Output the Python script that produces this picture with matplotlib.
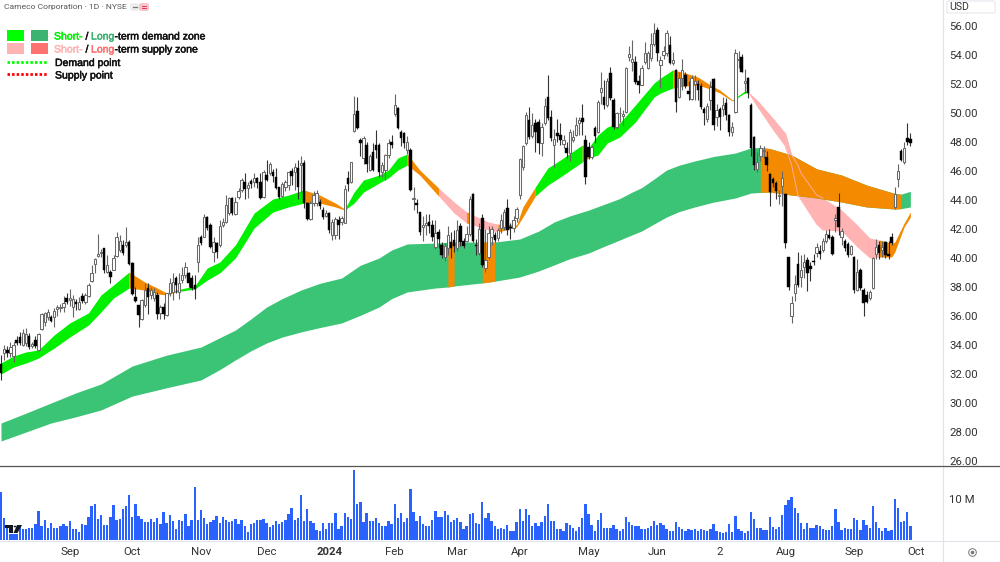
import numpy as np
import matplotlib
matplotlib.use("Agg")
import matplotlib.pyplot as plt
import matplotlib.patheffects as pe
from matplotlib.lines import Line2D
from matplotlib.patches import Rectangle, Circle, Polygon, FancyBboxPatch

W, H = 1000, 562

# candles, one value per trading day
opens = [
    32.7, 33.43, 33.66, 33.43, 33.26, 34.35, 34.57, 34.0, 34.12, 34.64,
    33.9, 34.35, 33.66, 35.08, 35.6, 35.95, 35.95, 35.95, 36.46, 36.53,
    36.6, 37.22, 37.1, 36.64, 36.99, 36.46, 37.38, 36.99, 37.38, 38.44,
    39.59, 40.14, 40.32, 40.67, 39.06, 39.06, 39.17, 40.14, 40.55, 40.9,
    40.9, 41.13, 39.68, 37.33, 36.76, 35.77, 36.76, 37.91, 37.45, 37.22,
    37.45, 36.18, 36.64, 36.07, 37.56, 37.68, 38.6, 37.68, 38.48, 38.83,
    38.99, 38.6, 38.14, 39.75, 41.43, 41.47, 42.81, 42.28, 40.44, 41.01,
    40.9, 42.28, 42.51, 43.08, 44.12, 43.04, 44.23, 44.69, 45.27, 44.81,
    45.34, 45.27, 45.5, 45.27, 44.23, 45.73, 45.89, 45.96, 45.57, 44.92,
    44.28, 44.92, 45.04, 46.03, 45.96, 46.19, 46.42, 46.58, 43.77, 42.67,
    43.77, 43.77, 43.89, 43.31, 42.9, 43.08, 41.59, 41.59, 42.62, 42.51,
    42.44, 45.5, 45.27, 48.79, 50.16, 48.14, 46.88, 47.8, 46.07, 47.34,
    47.8, 47.8, 45.96, 46.07, 47.1, 48.03, 49.93, 50.33, 48.72, 48.6,
    47.45, 47.45, 44.05, 43.77, 43.15, 42.16, 42.28, 42.51, 42.28, 40.74,
    41.77, 40.9, 40.1, 40.67, 41.13, 41.25, 40.67, 42.21, 41.2, 41.2,
    41.66, 44.4, 40.9, 40.33, 42.74, 39.29, 40.1, 41.47, 41.58, 41.35,
    42.04, 42.16, 43.42, 42.16, 42.04, 42.73, 44.34, 46.25, 47.9, 49.51,
    48.41, 49.28, 49.4, 47.9, 49.28, 51.08, 49.74, 47.79, 48.59, 48.48,
    47.86, 47.58, 47.21, 48.13, 48.48, 49.28, 49.65, 48.13, 47.63, 46.94,
    48.98, 48.71, 51.47, 51.08, 50.55, 52.73, 50.89, 49.05, 50.0, 49.79,
    50.09, 53.88, 53.54, 53.54, 52.23, 51.93, 53.54, 53.08, 53.77, 54.75,
    55.72, 53.31, 54.0, 54.11, 54.69, 53.42, 52.96, 51.12, 52.43, 52.62,
    51.54, 50.96, 51.97, 51.97, 51.86, 50.25, 49.58, 50.89, 52.32, 49.74,
    50.25, 50.25, 50.71, 49.86, 48.66, 50.09, 53.65, 53.88, 52.04, 52.39,
    50.55, 48.32, 46.11, 47.03, 47.37, 46.98, 45.79, 45.42, 45.14, 44.3,
    44.96, 44.39, 40.04, 36.0, 37.56, 39.62, 38.72, 39.41, 39.87, 39.45,
    39.82, 40.37, 40.51, 40.55, 41.2, 41.59, 41.47, 42.6, 43.54, 41.47,
    41.2, 40.97, 40.28, 40.05, 37.8, 39.17, 37.8, 37.45, 37.22, 37.91,
    40.28, 40.9, 40.55, 41.08, 40.28, 41.47, 43.5, 45.43, 47.4, 46.65,
    48.3, 48.21,
]
highs = [
    33.3, 34.0, 33.9, 34.2, 34.23, 34.6, 34.92, 35.08, 35.15, 34.85,
    34.2, 34.6, 34.8, 36.23, 36.3, 36.5, 36.1, 36.53, 36.76, 36.8,
    37.4, 37.6, 37.84, 37.45, 37.2, 37.33, 37.56, 37.6, 38.3, 39.5,
    39.98, 41.63, 40.6, 40.7, 40.2, 39.17, 40.2, 41.82, 41.59, 41.24,
    42.16, 41.24, 39.75, 38.02, 36.76, 37.15, 38.25, 38.25, 38.0, 37.9,
    37.68, 36.76, 36.87, 37.56, 38.6, 38.94, 38.76, 38.94, 39.4, 39.75,
    39.06, 38.83, 38.83, 41.47, 41.6, 43.04, 42.9, 42.39, 41.47, 41.13,
    42.62, 42.74, 44.35, 44.23, 44.23, 44.23, 44.81, 45.5, 45.84, 45.27,
    45.43, 45.84, 45.61, 45.84, 46.07, 46.76, 46.65, 46.12, 46.19, 44.92,
    45.27, 45.38, 45.96, 46.19, 46.58, 46.76, 47.0, 46.76, 43.89, 43.9,
    44.6, 44.7, 44.1, 43.5, 43.3, 43.2, 42.7, 42.8, 42.9, 42.9,
    45.0, 46.0, 46.65, 51.2, 51.1, 48.3, 48.4, 48.0, 47.2, 47.9,
    48.8, 47.9, 46.6, 47.2, 48.2, 48.5, 51.3, 50.4, 48.8, 48.7,
    48.4, 47.6, 44.9, 44.1, 43.15, 42.9, 43.0, 43.0, 42.6, 42.6,
    42.0, 41.1, 41.0, 42.2, 41.8, 41.9, 42.6, 42.4, 41.4, 42.2,
    44.3, 44.5, 41.3, 42.4, 43.0, 42.0, 42.2, 42.2, 41.8, 42.1,
    43.0, 43.4, 44.1, 42.4, 42.9, 43.5, 46.9, 47.8, 50.1, 50.4,
    50.0, 49.6, 49.6, 49.3, 51.0, 52.6, 50.2, 48.9, 49.6, 49.3,
    48.5, 48.0, 48.9, 48.8, 49.7, 49.7, 50.6, 48.5, 48.0, 47.8,
    49.1, 50.9, 52.8, 52.3, 52.4, 53.2, 51.0, 50.1, 50.4, 50.2,
    53.2, 54.6, 55.0, 53.9, 52.6, 53.3, 54.9, 54.3, 55.5, 56.2,
    55.9, 53.9, 54.6, 55.7, 55.3, 54.2, 53.0, 52.8, 53.7, 52.8,
    52.2, 52.6, 52.6, 52.3, 52.1, 50.4, 50.7, 52.2, 52.4, 50.6,
    50.4, 51.1, 51.0, 49.95, 49.4, 54.4, 54.25, 54.1, 53.0, 52.5,
    50.7, 48.4, 47.3, 47.8, 47.7, 47.4, 45.85, 45.6, 45.3, 44.7,
    46.0, 44.5, 40.1, 37.4, 38.8, 40.4, 40.2, 40.3, 40.1, 39.7,
    40.3, 41.0, 40.9, 41.4, 41.9, 42.0, 41.6, 43.0, 44.5, 42.1,
    41.3, 41.1, 40.9, 40.15, 39.9, 39.3, 37.9, 37.7, 37.8, 40.1,
    41.3, 41.2, 41.2, 41.2, 41.2, 41.7, 44.9, 46.5, 47.5, 48.0,
    49.3, 48.6,
]
lows = [
    31.6, 32.97, 33.2, 33.2, 32.85, 34.0, 34.0, 33.9, 33.9, 33.75,
    33.8, 33.8, 33.6, 35.03, 35.3, 35.7, 35.6, 35.22, 36.0, 36.3,
    36.3, 36.8, 36.7, 35.95, 36.4, 36.4, 36.9, 36.8, 37.3, 38.37,
    38.94, 40.09, 40.1, 38.94, 38.94, 38.25, 39.17, 40.09, 40.44, 40.2,
    40.78, 39.52, 37.45, 36.99, 35.22, 35.72, 36.64, 36.14, 37.2, 37.0,
    35.77, 35.77, 35.77, 36.0, 37.4, 37.1, 37.56, 37.2, 38.3, 38.6,
    38.0, 37.8, 37.15, 39.06, 40.9, 41.43, 41.93, 40.67, 39.75, 39.98,
    40.78, 42.16, 42.44, 42.97, 42.97, 42.97, 44.05, 44.58, 44.05, 44.12,
    44.81, 44.92, 44.81, 44.05, 44.12, 45.34, 45.73, 45.27, 44.74, 44.05,
    44.23, 44.6, 44.69, 45.04, 44.69, 44.05, 44.46, 43.43, 42.62, 42.6,
    43.6, 43.6, 43.4, 42.7, 42.8, 41.7, 41.24, 41.3, 41.3, 42.3,
    42.4, 44.6, 45.2, 48.7, 48.9, 47.0, 46.5, 45.9, 46.0, 46.0,
    46.9, 45.6, 45.6, 45.4, 46.9, 47.6, 49.8, 48.9, 47.7, 47.6,
    47.2, 44.6, 43.3, 43.1, 41.6, 41.2, 41.6, 41.7, 41.2, 40.6,
    40.7, 40.0, 39.8, 40.2, 40.0, 40.4, 40.5, 40.8, 40.7, 41.1,
    41.5, 41.1, 40.2, 40.2, 39.4, 39.0, 39.9, 40.9, 41.1, 41.2,
    41.7, 41.9, 41.6, 41.3, 41.8, 42.5, 44.1, 46.1, 47.8, 48.2,
    48.3, 47.3, 47.2, 47.0, 49.2, 49.5, 48.1, 46.3, 48.0, 47.8,
    47.6, 46.9, 46.7, 48.0, 48.4, 48.5, 48.5, 45.1, 46.8, 46.8,
    47.9, 48.6, 50.6, 50.3, 50.4, 50.9, 48.9, 48.9, 49.4, 49.1,
    50.0, 53.6, 52.9, 52.0, 51.35, 51.9, 53.4, 53.0, 53.6, 54.6,
    53.6, 51.7, 53.7, 53.9, 53.4, 53.3, 50.1, 51.0, 51.6, 51.7,
    50.9, 50.9, 50.9, 50.9, 50.3, 49.2, 49.4, 50.2, 48.85, 49.1,
    48.8, 49.8, 49.5, 48.4, 48.4, 50.0, 53.1, 52.8, 51.4, 51.0,
    47.0, 46.1, 45.9, 46.7, 46.9, 46.0, 43.6, 44.9, 44.1, 43.7,
    43.6, 40.7, 37.8, 35.5, 37.0, 38.0, 38.0, 38.6, 37.7, 38.4,
    39.5, 40.1, 39.9, 40.4, 41.0, 41.3, 40.2, 41.8, 41.6, 40.9,
    40.5, 40.1, 40.2, 37.6, 37.7, 37.8, 36.0, 36.9, 37.1, 37.85,
    39.9, 39.9, 40.1, 40.0, 39.9, 40.9, 43.4, 44.9, 46.7, 46.5,
    47.8, 47.7,
]
closes = [
    32.1, 33.7, 33.43, 33.89, 34.0, 34.16, 34.16, 34.8, 34.76, 33.84,
    34.07, 33.93, 34.73, 36.14, 36.18, 36.3, 35.68, 36.37, 36.6, 36.64,
    36.92, 36.99, 37.22, 37.15, 36.83, 36.99, 37.06, 37.45, 38.14, 38.94,
    39.91, 40.3, 40.44, 39.17, 39.52, 38.71, 39.98, 41.47, 41.17, 40.32,
    41.13, 39.59, 37.52, 37.06, 36.07, 37.1, 37.79, 37.33, 37.79, 37.68,
    36.14, 36.64, 36.14, 37.56, 38.25, 38.37, 38.14, 38.25, 38.83, 39.4,
    38.3, 37.91, 37.86, 40.9, 41.01, 42.85, 42.05, 40.78, 41.13, 40.44,
    42.21, 42.51, 43.66, 44.12, 43.13, 43.89, 44.65, 45.38, 44.74, 45.04,
    45.11, 45.5, 45.2, 44.12, 45.96, 45.38, 46.48, 45.68, 44.81, 44.23,
    45.11, 45.27, 45.96, 45.66, 46.3, 44.92, 46.53, 43.77, 42.67, 43.77,
    44.35, 44.46, 43.59, 42.85, 43.13, 41.93, 42.5, 42.67, 42.28, 42.74,
    44.74, 45.1, 46.65, 49.93, 48.95, 47.91, 48.26, 46.49, 47.0, 46.07,
    47.45, 45.96, 46.42, 47.1, 47.91, 47.8, 50.56, 48.99, 48.26, 47.91,
    48.03, 44.69, 44.12, 43.64, 41.82, 42.28, 42.39, 42.21, 41.47, 41.75,
    41.29, 40.2, 40.8, 41.59, 40.67, 40.8, 41.93, 41.13, 40.83, 41.66,
    44.05, 41.2, 40.8, 41.98, 39.52, 39.87, 41.7, 41.97, 41.24, 41.93,
    42.62, 43.19, 41.93, 42.07, 42.62, 43.35, 46.8, 47.72, 49.86, 48.36,
    49.17, 48.71, 47.9, 49.05, 50.48, 49.63, 48.25, 48.18, 48.41, 48.13,
    48.13, 47.26, 48.71, 48.36, 49.17, 49.51, 49.4, 45.6, 46.94, 47.67,
    48.41, 50.78, 51.7, 50.57, 52.2, 51.0, 49.01, 49.97, 50.02, 49.93,
    53.08, 54.07, 53.7, 52.16, 51.93, 53.08, 54.16, 54.11, 54.75, 55.49,
    54.11, 53.65, 54.3, 55.49, 53.42, 53.65, 50.78, 52.39, 52.96, 51.86,
    51.28, 52.43, 52.22, 51.58, 50.39, 50.02, 50.5, 51.81, 49.17, 50.2,
    49.74, 50.55, 49.86, 48.71, 49.0, 54.17, 53.74, 52.85, 52.22, 51.35,
    47.56, 46.41, 46.59, 47.56, 47.44, 46.41, 44.57, 45.19, 44.62, 44.35,
    45.49, 41.0, 38.02, 36.87, 38.18, 38.13, 39.17, 39.75, 38.94, 39.22,
    39.75, 40.74, 40.26, 41.2, 41.66, 41.4, 40.28, 42.74, 42.16, 41.89,
    40.67, 40.21, 40.83, 37.8, 39.06, 37.91, 36.92, 36.99, 37.68, 39.98,
    40.74, 40.32, 40.78, 40.21, 40.14, 41.06, 44.42, 46.03, 46.76, 47.57,
    48.03, 47.96,
]
# volume in millions
volumes = [
    11.8, 5.4, 3.7, 1.5, 1.5, 1.5, 3.7, 2.7, 2.8, 2.9,
    2.9, 3.9, 7.2, 3.3, 4.8, 2.9, 4.1, 3.0, 2.9, 3.3,
    3.8, 3.4, 4.6, 2.6, 2.8, 1.9, 3.8, 3.7, 5.5, 8.2,
    8.9, 5.1, 6.0, 3.7, 3.7, 5.5, 8.5, 4.8, 5.1, 7.5,
    8.3, 11.1, 5.5, 8.9, 5.8, 5.1, 4.3, 4.3, 5.2, 4.5,
    5.3, 3.9, 6.9, 4.2, 6.0, 4.6, 2.8, 4.8, 4.7, 6.3,
    3.5, 4.9, 12.9, 5.0, 7.3, 5.4, 3.9, 4.5, 4.9, 5.8,
    4.1, 5.7, 4.8, 4.4, 4.6, 5.1, 3.9, 5.0, 3.4, 1.9,
    4.0, 4.1, 5.0, 5.0, 5.1, 4.1, 3.2, 3.7, 4.6, 3.8,
    4.3, 5.0, 6.3, 7.9, 5.0, 5.4, 11.1, 4.6, 7.6, 4.6,
    4.1, 2.4, 2.3, 4.1, 2.7, 4.1, 4.1, 6.7, 2.7, 3.3,
    6.5, 5.7, 5.1, 17.2, 8.8, 9.3, 4.4, 6.5, 4.7, 4.6,
    5.3, 4.1, 3.3, 3.5, 4.6, 3.9, 8.8, 5.3, 6.6, 4.4,
    5.4, 12.4, 6.9, 4.7, 5.9, 3.9, 3.3, 3.5, 5.0, 7.0,
    5.6, 5.6, 7.2, 6.1, 4.4, 4.8, 5.4, 4.4, 2.6, 3.3,
    6.3, 6.6, 4.1, 3.9, 9.2, 5.3, 6.7, 4.6, 3.4, 2.8,
    3.0,
    2.7, 3.6, 2.2, 2.2, 4.3, 7.5, 4.6, 7.5, 6.1, 3.4,
    4.1, 3.4, 4.3, 5.9, 8.9, 4.6, 4.6, 2.8, 2.7, 2.3,
    4.1, 3.7, 2.9, 2.1, 3.2, 5.4, 8.8, 6.4, 3.7, 2.3,
    4.9, 6.5, 3.0, 3.0, 2.9, 3.7, 2.8, 2.2, 2.8, 5.7,
    4.3, 3.7, 3.5, 3.5, 2.7, 2.8, 2.9, 3.5, 4.6, 3.6,
    4.1, 3.7, 2.7, 2.3, 2.2, 4.4, 3.1, 2.8, 2.3, 2.6,
    2.5, 2.8, 2.3, 2.7, 2.5, 2.3, 2.8, 3.8, 2.2, 2.0,
    1.8, 1.9, 3.9, 2.0, 5.8, 2.6, 2.3, 1.8, 2.1, 6.8,
    5.2, 2.9, 2.9, 2.4, 2.4, 5.6, 3.1, 2.7, 3.2, 6.1,
    8.5, 9.8, 10.5, 7.9, 6.6, 4.1, 2.8, 4.1, 2.9, 3.0,
    3.7, 3.3, 2.8, 2.5, 2.4, 3.3, 7.5, 4.3, 2.4, 2.9,
    2.6, 2.6, 5.4, 5.0, 2.4, 4.8, 3.7, 2.9, 8.4, 4.4,
    2.9, 2.1, 3.0, 2.2, 2.4, 10.0, 7.7, 4.4, 4.7, 6.8,
    3.3,
]

price_ticks = list(range(26, 58, 2))
month_pos = [22, 42, 64, 85, 105, 126, 146, 166, 188, 210, 230, 251, 273, 293]
month_labels = ["Sep", "Oct", "Nov", "Dec", "2024", "Feb", "Mar", "Apr", "May", "Jun", "2", "Aug", "Sep", "Oct"]

# long-term zone edges
long_idx = [0, 8, 16, 24, 32, 42, 53, 64, 70, 75, 80, 85, 90, 96, 102, 109, 115, 121, 125, 130, 139, 143, 145, 154, 158, 166,
            172, 177, 182, 188, 193, 198, 202, 205, 209, 213, 217, 222, 228, 235, 240, 243, 246, 253, 261, 269, 277, 286, 288, 291]
long_top = [28.62, 29.3, 30.0, 30.7, 31.31, 32.55, 33.3, 33.86, 34.5, 35.03, 35.8, 36.62, 37.2, 37.79, 38.25, 38.62, 39.5, 40.0, 40.55, 40.97, 41.03, 41.08, 41.1, 41.1, 41.1, 41.31,
            41.85, 42.48, 42.9, 43.3, 43.7, 44.1, 44.55, 44.85, 45.45, 46.07, 46.4, 46.69, 47.0, 47.24, 47.59, 47.62, 47.55, 47.1, 46.15, 45.72, 45.03, 44.45, 44.4, 44.6]
long_bot = [27.38, 28.0, 28.62, 29.05, 29.52, 30.48, 31.05, 31.59, 32.3, 32.97, 33.6, 34.14, 34.55, 34.9, 35.2, 35.52, 36.05, 36.62, 37.2, 37.66, 37.93, 38.0, 38.07, 38.28, 38.4, 38.69,
            39.1, 39.52, 39.95, 40.34, 40.8, 41.24, 41.6, 41.86, 42.35, 42.83, 43.2, 43.52, 43.85, 44.14, 44.48, 44.52, 44.55, 44.34, 44.14, 43.86, 43.52, 43.38, 43.4, 43.52]
long_orange = [(143, 145), (154, 158), (243, 288)]

# short-term zone, one piece per colour: bars, upper edge, lower edge
short_green_1 = ([0, 4, 8, 12, 17, 22, 28, 32, 36, 41],
                 [32.76, 33.24, 33.52, 33.66, 34.69, 35.52, 36.21, 37.45, 38.14, 39.03],
                 [32.0, 32.48, 32.76, 33.1, 33.79, 34.55, 35.38, 36.28, 37.24, 37.93])
short_orange_1 = ([41, 46, 50, 53, 56],
                  [39.03, 38.34, 37.93, 37.59, 37.79],
                  [37.93, 37.79, 37.52, 37.45, 37.66])
short_green_2 = ([56, 62, 66, 70, 75, 81, 87, 92, 97],
                 [37.79, 38.07, 39.31, 39.72, 40.9, 43.1, 44.07, 44.34, 44.69],
                 [37.66, 37.86, 38.48, 38.97, 40.0, 42.07, 43.17, 43.52, 43.79])
short_orange_2 = ([97, 102, 107, 110],
                  [44.69, 44.34, 43.79, 43.38],
                  [43.79, 43.79, 43.52, 43.31])
short_green_3 = ([110, 113, 116, 121, 124, 127, 130],
                 [43.38, 44.55, 45.38, 45.72, 46.07, 46.9, 47.17],
                 [43.31, 43.79, 44.55, 45.17, 45.52, 46.07, 46.41])
short_orange_3 = ([130, 134, 140],
                  [47.17, 46.07, 44.83],
                  [46.41, 45.72, 44.28])
short_pink_1 = ([140, 145, 149, 156, 159],
                [44.83, 43.86, 43.17, 42.48, 42.34],
                [44.28, 43.1, 42.41, 41.93, 41.79])
short_orange_4 = ([149, 150], [43.17, 43.1], [42.41, 42.35])
short_orange_5 = ([159, 165, 167, 171],
                  [42.34, 42.28, 43.52, 44.9],
                  [41.79, 42.14, 42.83, 44.28])
short_green_4 = ([171, 175, 179, 186],
                 [44.9, 46.21, 46.76, 47.79],
                 [44.28, 45.03, 45.59, 46.62])
short_orange_6 = ([186, 188], [47.79, 47.59], [46.62, 46.9])
short_green_5 = ([188, 191, 194, 198, 203, 209, 211, 215],
                 [47.59, 48.48, 49.03, 49.31, 50.55, 52.07, 52.41, 52.97],
                 [46.9, 47.1, 47.93, 48.34, 49.38, 51.1, 51.38, 51.72])
short_orange_7 = ([215, 219, 223, 227, 230, 234],
                  [52.97, 52.76, 52.48, 51.93, 51.59, 50.9],
                  [51.72, 51.86, 51.93, 51.65, 51.38, 50.83])
short_green_6 = ([234, 238, 239], [50.9, 51.52, 51.48], [50.83, 51.38, 51.41])
short_pink_2 = ([239, 242, 247, 251, 253, 255, 256, 261, 263, 269, 274, 278, 281],
                [51.48, 50.9, 49.66, 48.62, 47.1, 46.41, 45.86, 44.34, 44.14, 43.31, 42.28, 41.38, 41.24],
                [51.41, 50.41, 48.83, 47.66, 46.41, 44.34, 44.0, 42.34, 41.93, 41.86, 40.76, 40.0, 40.07])
short_orange_8 = ([281, 285, 286, 289, 291],
                  [41.24, 41.03, 41.1, 42.41, 43.17],
                  [40.07, 40.07, 40.41, 42.14, 42.83])

GREEN = "#00F000"
LONG_GREEN = "#3CC476"
ORANGE = "#F48A00"
PINK = "#FFB3B3"
BAR_X0 = -0.32


def fig_xy(x, y):
    return x / W, 1 - y / H


def add_text(fig, x, y, text, color, size=7.55):
    t = fig.text(*fig_xy(x, y), text, color=color, fontsize=size,
                 va="baseline", ha="left", family="Liberation Sans")
    t.set_path_effects([pe.withStroke(linewidth=0.35, foreground=color)])


def draw_short(ax, piece, color):
    ax.fill_between(piece[0], piece[1], piece[2], color=color, lw=0, zorder=2)


def draw_candles(ax):
    x = np.arange(len(opens))
    o, h, l, c = map(np.array, (opens, highs, lows, closes))
    up = c >= o
    ax.vlines(x[up], l[up], h[up], color="#666666", lw=0.8, zorder=4)
    ax.vlines(x[~up], l[~up], h[~up], color="#333333", lw=0.8, zorder=4)
    ax.bar(x[up], (c - o)[up], bottom=o[up], width=0.76, color="white",
           edgecolor="#6a6a6a", lw=0.75, zorder=5)
    ax.bar(x[~up], (o - c)[~up], bottom=c[~up], width=0.8, color="black",
           edgecolor="black", lw=0.3, zorder=5)


fig = plt.figure(figsize=(W / 100, H / 100), dpi=100, facecolor="white")
ax = fig.add_axes([0, 1 - 465 / H, 943 / W, 465 / H])
vol_ax = fig.add_axes([0, 1 - 541 / H, 943 / W, 76 / H])

# short-term zone first, the long-term zone covers it where they cross
for piece, color in [(short_green_1, GREEN), (short_orange_1, ORANGE), (short_green_2, GREEN),
                     (short_orange_2, ORANGE), (short_green_3, GREEN), (short_orange_3, ORANGE),
                     (short_pink_1, PINK), (short_orange_4, ORANGE), (short_orange_5, ORANGE),
                     (short_green_4, GREEN), (short_orange_6, ORANGE), (short_green_5, GREEN),
                     (short_orange_7, ORANGE), (short_green_6, GREEN), (short_pink_2, PINK),
                     (short_orange_8, ORANGE)]:
    draw_short(ax, piece, color)

li = np.array(long_idx)
lt = np.array(long_top)
lb = np.array(long_bot)
ax.fill_between(li, lt, lb, color=LONG_GREEN, lw=0, zorder=3)
for a, b in long_orange:
    m = (li >= a) & (li <= b)
    ax.fill_between(li[m], lt[m], lb[m], color=ORANGE, lw=0, zorder=3)

# faint edges of the supply zone show through the orange
pink_x = np.array(short_pink_2[0])
inside = (pink_x >= 251) & (pink_x <= 263)
ax.plot(pink_x[inside], np.array(short_pink_2[1])[inside], color=PINK, lw=0.6, zorder=3.5)
ax.plot(pink_x[inside], np.array(short_pink_2[2])[inside], color=PINK, lw=0.6, zorder=3.5)

draw_candles(ax)

ax.set_xlim(BAR_X0, 301.44)
ax.set_ylim(57.793 - 465 / 14.5, 57.793)
ax.yaxis.tick_right()
ax.set_yticks(price_ticks)
ax.set_yticklabels([f"{t:.2f}" for t in price_ticks], family="Roboto", fontsize=8.2, color="#333333")
ax.tick_params(axis="y", length=0, pad=4.5)
ax.set_xticks([])
for side in ("top", "left", "bottom"):
    ax.spines[side].set_visible(False)
ax.spines["right"].set_color("#e0e3eb")
ax.spines["right"].set_linewidth(0.8)

vol_ax.bar(np.arange(len(volumes)), volumes, width=0.74, color="#2962FF", lw=0)
vol_ax.set_xlim(BAR_X0, 301.44)
vol_ax.set_ylim(-0.24, 18.3)
vol_ax.yaxis.tick_right()
vol_ax.set_yticks([10])
vol_ax.set_yticklabels(["10 M"], family="Roboto", fontsize=8.2, color="#333333")
vol_ax.tick_params(axis="y", length=0, pad=4.5)
vol_ax.set_xticks(month_pos)
vol_ax.set_xticklabels(month_labels, family="Roboto", fontsize=8.2, color="#333333")
vol_ax.tick_params(axis="x", length=0, pad=4)
vol_ax.get_xticklabels()[4].set_fontweight("bold")
for side in ("top", "left", "bottom"):
    vol_ax.spines[side].set_visible(False)
vol_ax.spines["right"].set_color("#e0e3eb")
vol_ax.spines["right"].set_linewidth(0.8)
vol_ax.patch.set_alpha(0)

# pane separator and bottom rule run the full width
fig.add_artist(Line2D([0, 1], [1 - 465.5 / H] * 2, color="#555555", lw=0.9))
fig.add_artist(Line2D([0, 1], [1 - 541 / H] * 2, color="#e0e3eb", lw=0.8))
fig.add_artist(Line2D([943 / W, 943 / W], [0, 1 - 541 / H], color="#e0e3eb", lw=0.8))

# currency box
fig.add_artist(FancyBboxPatch(fig_xy(947, 13), 48 / W, 12 / H, boxstyle="round,pad=0,rounding_size=0.002",
                              transform=fig.transFigure, fc="white", ec="#e0e3eb", lw=0.7))
fig.text(*fig_xy(949, 7), "USD", family="Roboto", fontsize=7.6, color="#333333", va="center", ha="left")

# header
fig.text(*fig_xy(4, 7), "Cameco Corporation · 1D · NYSE", family="Roboto", fontsize=6.1,
         color="#555555", va="center", ha="left")
fig.add_artist(FancyBboxPatch(fig_xy(130, 11), 9 / W, 8 / H, boxstyle="round,pad=0,rounding_size=0.003",
                              transform=fig.transFigure, fc="#eeeeee", ec="none"))
fig.add_artist(FancyBboxPatch(fig_xy(139, 11), 10 / W, 8 / H, boxstyle="round,pad=0,rounding_size=0.003",
                              transform=fig.transFigure, fc="#f9c6cf", ec="none"))
fig.add_artist(Line2D([132.5 / W, 136.5 / W], [1 - 7 / H] * 2, color="#777777", lw=0.9))
fig.add_artist(Line2D([141.5 / W, 145.5 / W], [1 - 6 / H] * 2, color="#e53955", lw=0.7))
fig.add_artist(Line2D([141.5 / W, 145.5 / W], [1 - 8 / H] * 2, color="#e53955", lw=0.7))

# legend
for x0, y0, color in [(7, 40.5, "#00FF00"), (31, 40.5, "#3CB371"), (7, 53.5, "#FFB3B3"), (31, 53.5, "#FF7070")]:
    fig.add_artist(Rectangle(fig_xy(x0, y0), 17 / W, 11 / H, transform=fig.transFigure, fc=color, ec="none"))
add_text(fig, 54, 39.5, "Short-", "#00F000")
add_text(fig, 85.5, 39.5, "/", "#111111")
add_text(fig, 91, 39.5, "Long", "#3CB371")
add_text(fig, 114.5, 39.5, "-term demand zone", "#111111")
add_text(fig, 54, 52.5, "Short-", "#FFB3B3")
add_text(fig, 85.5, 52.5, "/", "#111111")
add_text(fig, 91, 52.5, "Long", "#FF7070")
add_text(fig, 114.5, 52.5, "-term supply zone", "#111111")
add_text(fig, 55, 66, "Demand point", "#111111")
add_text(fig, 55, 78.5, "Supply point", "#111111")
for y0, color in [(61.5, "#00FF00"), (74, "#FF0000")]:
    fig.add_artist(Line2D([7 / W, 48 / W], [1 - y0 / H] * 2, color=color, lw=2.0, ls=(0, (0.9, 0.75))))

# TradingView mark over the volume pane
fig.add_artist(Rectangle(fig_xy(5, 528), 8 / W, 3 / H, transform=fig.transFigure, fc="#131722", ec="none", zorder=6))
fig.add_artist(Rectangle(fig_xy(9, 533), 3.5 / W, 8 / H, transform=fig.transFigure, fc="#131722", ec="none", zorder=6))
fig.add_artist(Circle(fig_xy(15, 526.5), 1.4 / W, transform=fig.transFigure, fc="#131722", ec="none", zorder=6))
fig.add_artist(Polygon([fig_xy(17, 525), fig_xy(22, 525), fig_xy(17.5, 533), fig_xy(13.5, 533)],
                       transform=fig.transFigure, fc="#131722", ec="none", zorder=6))

# settings target at the bottom right
fig.add_artist(Line2D([972 / W], [1 - 551.5 / H], marker="o", ms=5.5, mfc="white", mec="#777777", mew=0.7))
fig.add_artist(Line2D([972 / W], [1 - 551.5 / H], marker="o", ms=1.6, mfc="#777777", mec="#777777"))

fig.savefig("out.png", dpi=100, facecolor="white")
